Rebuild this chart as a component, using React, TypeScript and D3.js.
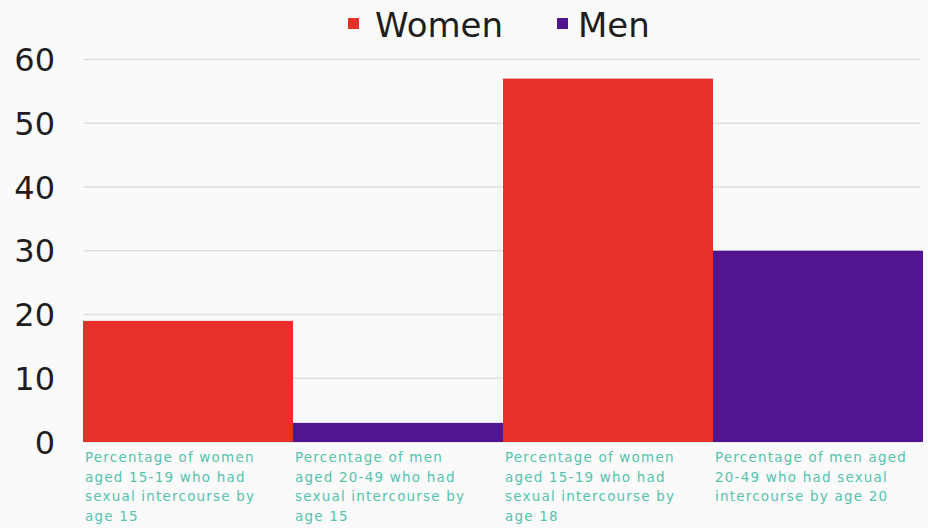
import React from "react";
import * as d3 from "d3";

const categories = [
  "Percentage of women aged 15-19 who had sexual intercourse by age 15",
  "Percentage of men aged 20-49 who had sexual intercourse by age 15",
  "Percentage of women aged 15-19 who had sexual intercourse by age 18",
  "Percentage of men aged 20-49 who had sexual intercourse by age 20",
];
const categoryLines = [
  ["Percentage of women", "aged 15-19 who had", "sexual intercourse by", "age 15"],
  ["Percentage of men", "aged 20-49 who had", "sexual intercourse by", "age 15"],
  ["Percentage of women", "aged 15-19 who had", "sexual intercourse by", "age 18"],
  ["Percentage of men aged", "20-49 who had sexual", "intercourse by age 20"],
];
const values = [19, 3, 57, 30];
const seriesOf = ["Women", "Men", "Women", "Men"];
const seriesNames = ["Women", "Men"];
const seriesColors = ["#e8302a", "#52158f"];
const yTicks = [0, 10, 20, 30, 40, 50, 60];

const W = 928;
const H = 528;
const FONT = "'DejaVu Sans', Verdana, sans-serif";

export default function App() {
  const x = d3.scaleBand<string>().domain(categories).range([83, 923]).padding(0);
  const y = d3.scaleLinear().domain([0, 60]).range([442, 59.5]);
  const color = d3.scaleOrdinal<string, string>().domain(seriesNames).range(seriesColors);

  return (
    <svg
      width={W}
      height={H}
      style={{ position: "absolute", left: 0, top: 0, display: "block", background: "#fafafa" }}
    >
      <rect x={0} y={0} width={W} height={H} fill="#fafafa" />
      {/* gridlines */}
      {yTicks.map((t) => (
        <line key={"g" + t} x1={84} x2={920} y1={y(t)} y2={y(t)} stroke="#dedede" strokeWidth={1.5} />
      ))}
      {/* y tick labels */}
      {yTicks.map((t) => (
        <text
          key={"t" + t}
          x={55}
          y={y(t)}
          dy="0.36em"
          textAnchor="end"
          fontFamily={FONT}
          fontSize={32}
          fill="#1e1e1e"
        >
          {t}
        </text>
      ))}
      {/* bars */}
      {categories.map((c, i) => (
        <rect
          key={c}
          x={x(c)!}
          y={y(values[i])}
          width={x.bandwidth()}
          height={y(0) - y(values[i])}
          fill={color(seriesOf[i])}
        />
      ))}
      {/* x labels */}
      {categories.map((c, i) => (
        <text key={"l" + c} fontFamily={FONT} fontSize={13.5} letterSpacing={1.2} fill="#55c2ad">
          {categoryLines[i].map((ln, j) => (
            <tspan key={j} x={x(c)! + 2} y={462 + j * 19.7}>
              {ln}
            </tspan>
          ))}
        </text>
      ))}
      {/* legend */}
      <g fontFamily={FONT} fontSize={34} fill="#1e1e1e">
        <rect x={348} y={18} width={11} height={11} fill={seriesColors[0]} />
        <text x={375} y={37}>{seriesNames[0]}</text>
        <rect x={557} y={18} width={11} height={11} fill={seriesColors[1]} />
        <text x={578} y={37}>{seriesNames[1]}</text>
      </g>
    </svg>
  );
}
